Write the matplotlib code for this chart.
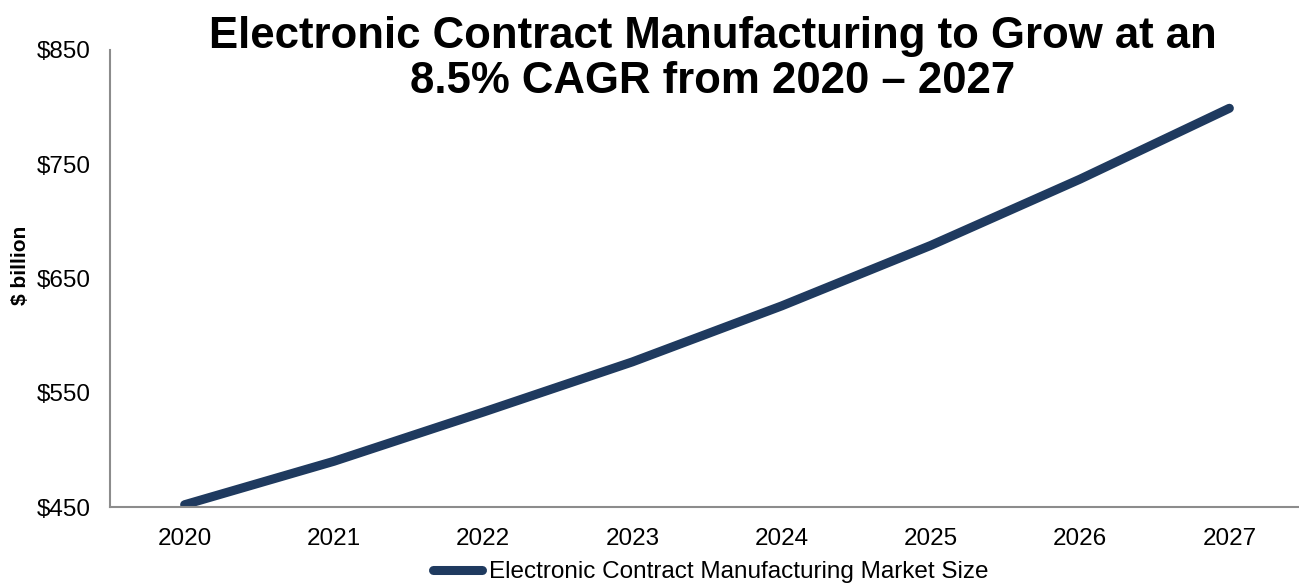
import matplotlib.pyplot as plt

years = ["2020", "2021", "2022", "2023", "2024", "2025", "2026", "2027"]
market_size = [452, 490, 533, 577, 626, 679, 737, 799]
y_ticks = [450, 550, 650, 750, 850]

plt.rcParams['font.family'] = ['Liberation Sans', 'DejaVu Sans']

fig = plt.figure(figsize=(12.99, 5.83), dpi=100)
ax = fig.add_axes([110/1299, 76/583, 1194/1299, 457/583])

ax.plot(range(len(years)), market_size, color="#1f3a5f", lw=6.5,
        solid_capstyle="round", label="Electronic Contract Manufacturing Market Size")

ax.set_xlim(-0.5, len(years) - 0.5)
ax.set_ylim(450, 850)
ax.set_xticks(range(len(years)))
ax.set_xticklabels(years)
ax.set_yticks(y_ticks)
ax.set_yticklabels(["$" + str(v) for v in y_ticks])
ax.tick_params(length=0, labelsize=17.5)
ax.tick_params(axis="y", pad=14)
ax.tick_params(axis="x", pad=15)

for s in ["top", "right"]:
    ax.spines[s].set_visible(False)
for s in ["left", "bottom"]:
    ax.spines[s].set_color("#8c8c8c")
    ax.spines[s].set_linewidth(1.5)

fig.text(20/1299, 1 - 265/583, "$ billion", rotation=90, fontsize=15,
         fontweight="bold", ha="center", va="center")
fig.text(713/1299, 1 - 59/583,
         "Electronic Contract Manufacturing to Grow at an\n8.5% CAGR from 2020 \u2013 2027",
         fontsize=31.5, fontweight="bold", ha="center", va="center", linespacing=1.12)

fig.legend(loc="center", bbox_to_anchor=(711/1299, 1 - 572/583), frameon=False,
           fontsize=17.5, handlelength=2.0, handletextpad=0.3)

fig.savefig("out.png", dpi=100)
